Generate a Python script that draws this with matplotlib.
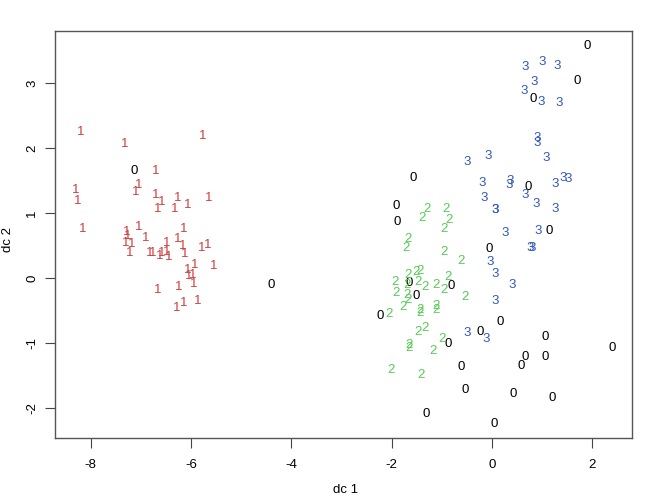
import matplotlib
matplotlib.use("Agg")
import matplotlib.pyplot as plt

plt.rcParams['font.family'] = ['Liberation Sans', 'DejaVu Sans']

# discriminant scores; each group is drawn as its label digit
x0 = [1.89, 1.69, 0.82, -7.14, -1.58, -1.90, -1.88, 0.72, 1.14, -0.05,
      -4.40, -1.65, -0.82, -1.52, -2.23, 0.16, -0.24, -0.87, 1.05, 2.40,
      0.66, 1.05, 0.59, -0.62, -0.53, 0.43, 1.19, -1.32, 0.05]
y0 = [3.57, 3.03, 2.76, 1.65, 1.54, 1.11, 0.86, 1.40, 0.72, 0.45,
      -0.10, -0.08, -0.12, -0.28, -0.58, -0.68, -0.83, -1.01, -0.90, -1.07,
      -1.21, -1.21, -1.35, -1.37, -1.72, -1.78, -1.85, -2.09, -2.24]

x1 = [-8.19, -5.76, -7.33, -6.71, -7.05, -7.11, -8.30, -8.25, -6.71, -6.59,
      -6.66, -6.26, -6.33, -6.07, -5.64, -8.15, -7.05, -6.14, -7.28, -7.26,
      -7.31, -7.18, -7.23, -6.91, -6.49, -6.27, -6.83, -6.76, -6.63, -6.59,
      -6.49, -6.45, -6.16, -6.13, -5.78, -5.67, -5.55, -6.07, -5.92, -6.05,
      -5.96, -5.95, -6.66, -6.24, -6.28, -6.15, -5.86]
y1 = [2.25, 2.18, 2.06, 1.64, 1.43, 1.33, 1.35, 1.19, 1.28, 1.17,
      1.06, 1.23, 1.06, 1.12, 1.23, 0.76, 0.79, 0.76, 0.71, 0.65,
      0.54, 0.52, 0.38, 0.61, 0.54, 0.60, 0.38, 0.38, 0.34, 0.39,
      0.40, 0.33, 0.50, 0.37, 0.47, 0.51, 0.18, 0.12, 0.20, 0.04,
      0.05, -0.09, -0.18, -0.13, -0.46, -0.38, -0.35]

x2 = [-1.30, -1.40, -0.92, -0.86, -0.95, -1.67, -1.71, -0.96, -0.62, -1.67,
      -1.52, -1.43, -1.93, -1.69, -1.48, -1.33, -1.12, -0.87, -0.95, -0.54,
      -1.92, -1.70, -1.67, -1.77, -2.05, -1.43, -1.43, -1.12, -1.12, -1.48,
      -1.33, -1.00, -1.65, -1.65, -1.18, -2.02, -1.42]
y2 = [1.06, 0.92, 1.06, 0.89, 0.76, 0.60, 0.47, 0.40, 0.26, 0.05,
      0.10, 0.11, -0.06, -0.11, -0.06, -0.13, -0.11, 0.01, -0.19, -0.29,
      -0.23, -0.26, -0.34, -0.44, -0.55, -0.49, -0.53, -0.43, -0.49, -0.83,
      -0.77, -0.93, -1.03, -1.08, -1.12, -1.42, -1.49]

x3 = [0.66, 0.99, 1.29, 0.84, 0.64, 0.97, 1.33, 0.89, 0.89, -0.49,
      -0.07, 1.08, -0.19, 0.36, 0.34, 1.25, 1.42, 1.51, -0.16, 0.66,
      0.87, 0.06, 0.06, 1.25, 0.26, 0.91, 0.76, 0.80, -0.04, 0.07,
      0.41, 0.06, -0.49, -0.11]
y3 = [3.25, 3.33, 3.26, 3.01, 2.88, 2.71, 2.69, 2.16, 2.08, 1.78,
      1.88, 1.84, 1.46, 1.50, 1.43, 1.44, 1.54, 1.52, 1.23, 1.27,
      1.14, 1.05, 1.05, 1.06, 0.70, 0.72, 0.47, 0.47, 0.25, 0.06,
      -0.11, -0.35, -0.84, -0.94]

groups = [("0", x0, y0, "black"),
          ("1", x1, y1, "#cf3f3f"),
          ("2", x2, y2, "#55cc55"),
          ("3", x3, y3, "#3358b8")]

fig = plt.figure(figsize=(6.5, 5.03), dpi=100)
ax = fig.add_axes([0.0846, 0.129, 0.8877, 0.8095])

for label, xs, ys, col in groups:
    for x, y in zip(xs, ys):
        ax.text(x, y, label, color=col, fontsize=9.5, ha="center", va="center")

ax.set_xlim(-8.71, 2.79)
ax.set_ylim(-2.46, 3.80)
ax.set_xticks([-8, -6, -4, -2, 0, 2])
ax.set_yticks([-2, -1, 0, 1, 2, 3])
ax.set_xticklabels(["-8", "-6", "-4", "-2", "0", "2"])
ax.set_yticklabels(["-2", "-1", "0", "1", "2", "3"], rotation=90, va="center")
ax.tick_params(direction="out", length=7, width=0.8, color="#444444",
               labelsize=9.5)
ax.tick_params(axis="x", pad=8)
ax.tick_params(axis="y", pad=5)
for s in ax.spines.values():
    s.set_color("#555555")
    s.set_linewidth(1.0)

fig.text(0.531, 0.026, "dc 1", ha="center", va="center", fontsize=9.5)
fig.text(0.012, 0.523, "dc 2", ha="center", va="center", fontsize=9.5, rotation=90)

fig.savefig("out.png", dpi=100, facecolor="white")
